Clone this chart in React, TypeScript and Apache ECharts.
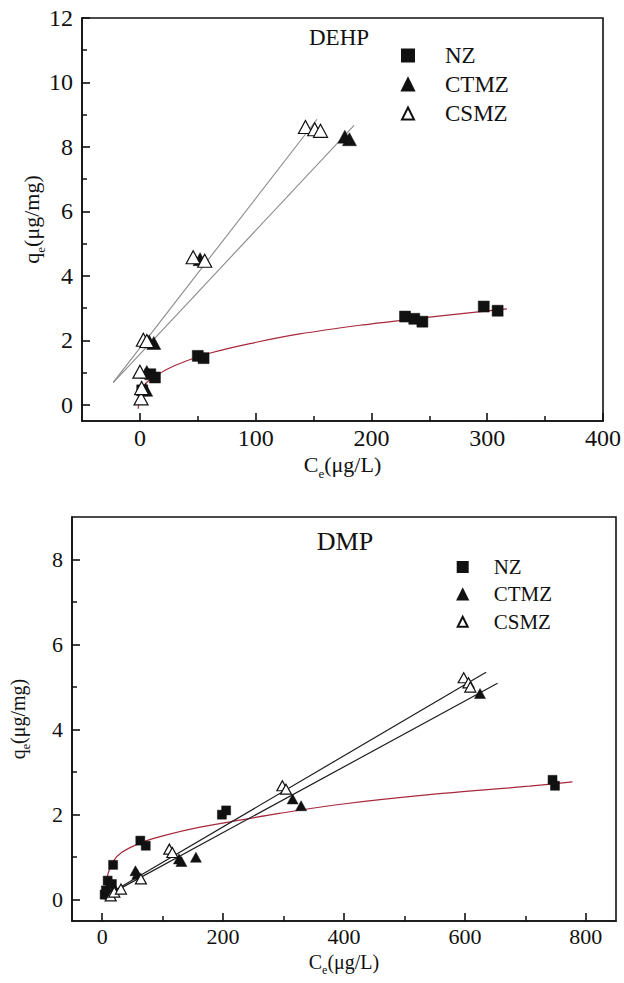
import React, { useEffect, useRef } from "react";
import * as echarts from "echarts";

const FONT = '"Liberation Serif", "Times New Roman", serif';
const INK = "#111111";
const RED = "#a8283c";

// ---- DEHP (top chart) ----
const topXTicks = [0, 100, 200, 300, 400];
const topXMinor = [50, 150, 250, 350];
const topYTicks = [0, 2, 4, 6, 8, 10, 12];
const topYMinor = [1, 3, 5, 7, 9, 11];
const topNZ = [[2, 0.45], [9, 0.95], [13, 0.85], [50, 1.52], [55, 1.45], [229, 2.74], [237, 2.67], [244, 2.58], [297, 3.05], [309, 2.92]];
const topCTMZ = [[5, 0.47], [6, 1.02], [8, 1.97], [12, 1.92], [52, 4.52], [177, 8.32], [181, 8.24]];
const topCSMZ = [[1, 0.2], [1.5, 0.52], [0, 1.03], [3, 2.02], [6, 1.98], [46, 4.58], [56, 4.47], [143, 8.62], [151, 8.55], [156, 8.5]];
const topNZFit = [[-1.5, -0.12], [0, 0.25], [3, 0.55], [6, 0.7], [13, 0.88], [23, 1.1], [40, 1.36], [60, 1.6], [95, 1.9], [138, 2.2], [190, 2.47], [230, 2.64], [270, 2.8], [317, 2.98]];
const topCTMZFit = [[-23, 0.69], [185, 8.67]];
const topCSMZFit = [[-23, 0.7], [153, 8.86]];

// ---- DMP (bottom chart) ----
const botXTicks = [0, 200, 400, 600, 800];
const botXMinor = [100, 300, 500, 700];
const botYTicks = [0, 2, 4, 6, 8];
const botYMinor = [1, 3, 5, 7];
const botNZ = [[4, 0.12], [6, 0.22], [9, 0.45], [16, 0.37], [18, 0.82], [63, 1.39], [72, 1.27], [198, 2.0], [205, 2.1], [745, 2.82], [749, 2.68]];
const botCTMZ = [[14, 0.4], [20, 0.28], [55, 0.68], [58, 0.6], [127, 0.96], [131, 0.9], [155, 1.0], [315, 2.37], [329, 2.21], [625, 4.85]];
const botCSMZ = [[14, 0.09], [20, 0.18], [31, 0.25], [64, 0.49], [111, 1.19], [116, 1.11], [298, 2.68], [304, 2.6], [598, 5.22], [606, 5.1], [609, 5.0]];
const botNZFit = [[3, 0.0], [5, 0.22], [8.5, 0.55], [17, 0.88], [33, 1.12], [66, 1.35], [105, 1.52], [160, 1.7], [227, 1.87], [293, 2.03], [392, 2.24], [541, 2.47], [707, 2.67], [778, 2.77]];
const botCTMZFit = [[15, 0.15], [654, 5.09]];
const botCSMZFit = [[15, 0.17], [635, 5.35]];

const legendNames = ["NZ", "CTMZ", "CSMZ"];

function nameStyle(size: number) {
  const sub = Math.round(size * 0.6);
  return {
    fontFamily: FONT,
    fontSize: size,
    color: INK,
    rich: {
      m: { fontFamily: FONT, fontSize: size, color: INK, lineHeight: size, verticalAlign: "top" },
      s: { fontFamily: FONT, fontSize: sub, color: INK, lineHeight: sub, verticalAlign: "top", padding: [Math.round(size * 0.62), 0, 0, 0] },
    },
  };
}

function mainAxis(opts: any) {
  const { gridIndex, min, max, ticks, fontSize, name, nameSize, nameGap, margin } = opts;
  return {
    gridIndex,
    type: "value",
    min,
    max,
    axisLine: { show: true, onZero: false, lineStyle: { color: INK, width: 1.6 } },
    axisTick: { show: true, inside: true, length: 8, customValues: ticks, lineStyle: { color: INK, width: 1.6 } },
    axisLabel: { show: true, customValues: ticks, fontFamily: FONT, fontSize, color: INK, margin },
    splitLine: { show: false },
    name,
    nameLocation: "middle",
    nameGap,
    nameMoveOverlap: false,
    nameTextStyle: nameStyle(nameSize),
  };
}

function minorAxis(opts: any) {
  const { gridIndex, min, max, ticks, position } = opts;
  return {
    gridIndex,
    type: "value",
    min,
    max,
    position,
    offset: 0,
    axisLine: { show: false, onZero: false },
    axisTick: { show: true, inside: true, length: 5, customValues: ticks, lineStyle: { color: INK, width: 1.5 } },
    axisLabel: { show: false },
    splitLine: { show: false },
  };
}

function scatter(name: string, data: number[][], kind: string, size: number, xi: number, yi: number) {
  const isRect = kind === "rect";
  const open = kind === "open";
  return {
    name,
    type: "scatter",
    xAxisIndex: xi,
    yAxisIndex: yi,
    data,
    symbol: isRect ? "rect" : "triangle",
    symbolSize: isRect ? size : [size + 2, size + 1],
    itemStyle: open
      ? { color: "#ffffff", borderColor: INK, borderWidth: 1.2, opacity: 1 }
      : { color: INK, borderColor: INK, borderWidth: 0.5, opacity: 1 },
    z: 3,
  };
}

function fitLine(name: string, data: number[][], color: string, width: number, smooth: boolean, xi: number, yi: number) {
  return {
    name,
    type: "line",
    xAxisIndex: xi,
    yAxisIndex: yi,
    data,
    smooth: smooth ? 0.3 : false,
    showSymbol: false,
    symbol: "none",
    lineStyle: { color, width },
    z: 2,
    silent: true,
  };
}

export default function App() {
  const ref = useRef<HTMLDivElement>(null);
  useEffect(() => {
    if (!ref.current) return;
    const chart = echarts.init(ref.current, null, { renderer: "svg" });
    const xName = "{m|C}{s|e}{m|(μg/L)}";
    const yName = "{m|q}{s|e}{m|(μg/mg)}";
    const option: any = {
      animation: false,
      backgroundColor: "#ffffff",
      grid: [
        { left: 82, top: 18, width: 523, height: 403, show: true, borderColor: INK, borderWidth: 1.6, backgroundColor: "transparent" },
        { left: 72, top: 517, width: 544, height: 404, show: true, borderColor: INK, borderWidth: 1.6, backgroundColor: "transparent" },
      ],
      xAxis: [
        mainAxis({ gridIndex: 0, min: -50, max: 400, ticks: topXTicks, fontSize: 24, name: xName, nameSize: 22, nameGap: 32, margin: 5 }),
        minorAxis({ gridIndex: 0, min: -50, max: 400, ticks: topXMinor, position: "bottom" }),
        mainAxis({ gridIndex: 1, min: -50, max: 850, ticks: botXTicks, fontSize: 22, name: xName, nameSize: 20, nameGap: 31, margin: 4 }),
        minorAxis({ gridIndex: 1, min: -50, max: 850, ticks: botXMinor, position: "bottom" }),
      ],
      yAxis: [
        mainAxis({ gridIndex: 0, min: -0.5, max: 12, ticks: topYTicks, fontSize: 24, name: yName, nameSize: 22, nameGap: 40, margin: 9 }),
        minorAxis({ gridIndex: 0, min: -0.5, max: 12, ticks: topYMinor, position: "left" }),
        mainAxis({ gridIndex: 1, min: -0.5, max: 9, ticks: botYTicks, fontSize: 22, name: yName, nameSize: 20, nameGap: 44, margin: 9 }),
        minorAxis({ gridIndex: 1, min: -0.5, max: 9, ticks: botYMinor, position: "left" }),
      ],
      legend: [
        {
          data: legendNames,
          orient: "vertical",
          left: 401,
          top: 44,
          padding: 0,
          itemWidth: 12,
          itemHeight: 12,
          itemGap: 6,
          selectedMode: false,
          textStyle: { fontFamily: FONT, fontSize: 23, lineHeight: 23, color: INK, padding: [0, 0, 0, 26] },
        },
        {
          data: legendNames,
          orient: "vertical",
          left: 456.7,
          top: 556.5,
          padding: 0,
          itemWidth: 10,
          itemHeight: 10,
          itemGap: 6.4,
          selectedMode: false,
          textStyle: { fontFamily: FONT, fontSize: 21, lineHeight: 21, color: INK, padding: [0, 0, 0, 21] },
        },
      ],
      graphic: [
        { type: "text", x: 339, y: 37, style: { text: "DEHP", fontFamily: FONT, fontSize: 23, fill: INK, align: "center", verticalAlign: "middle" } },
        { type: "text", x: 345, y: 541, style: { text: "DMP", fontFamily: FONT, fontSize: 26, fill: INK, align: "center", verticalAlign: "middle" } },
      ],
      series: [
        fitLine("NZ fit", topNZFit, RED, 1.2, true, 0, 0),
        fitLine("CTMZ fit", topCTMZFit, "#8a8a8a", 1.1, false, 0, 0),
        fitLine("CSMZ fit", topCSMZFit, "#8a8a8a", 1.1, false, 0, 0),
        scatter("NZ", topNZ, "rect", 11, 0, 0),
        scatter("CTMZ", topCTMZ, "fill", 12, 0, 0),
        scatter("CSMZ", topCSMZ, "open", 12, 0, 0),
        fitLine("NZ fit 2", botNZFit, RED, 1.2, true, 2, 2),
        fitLine("CTMZ fit 2", botCTMZFit, "#1e1e1e", 1.2, false, 2, 2),
        fitLine("CSMZ fit 2", botCSMZFit, "#1e1e1e", 1.2, false, 2, 2),
        scatter("NZ", botNZ, "rect", 9, 2, 2),
        scatter("CTMZ", botCTMZ, "fill", 9, 2, 2),
        scatter("CSMZ", botCSMZ, "open", 9, 2, 2),
      ],
    };
    chart.setOption(option);
    return () => chart.dispose();
  }, []);
  return <div ref={ref} style={{ position: "fixed", left: 0, top: 0, width: 624, height: 983, background: "#fff" }} />;
}
